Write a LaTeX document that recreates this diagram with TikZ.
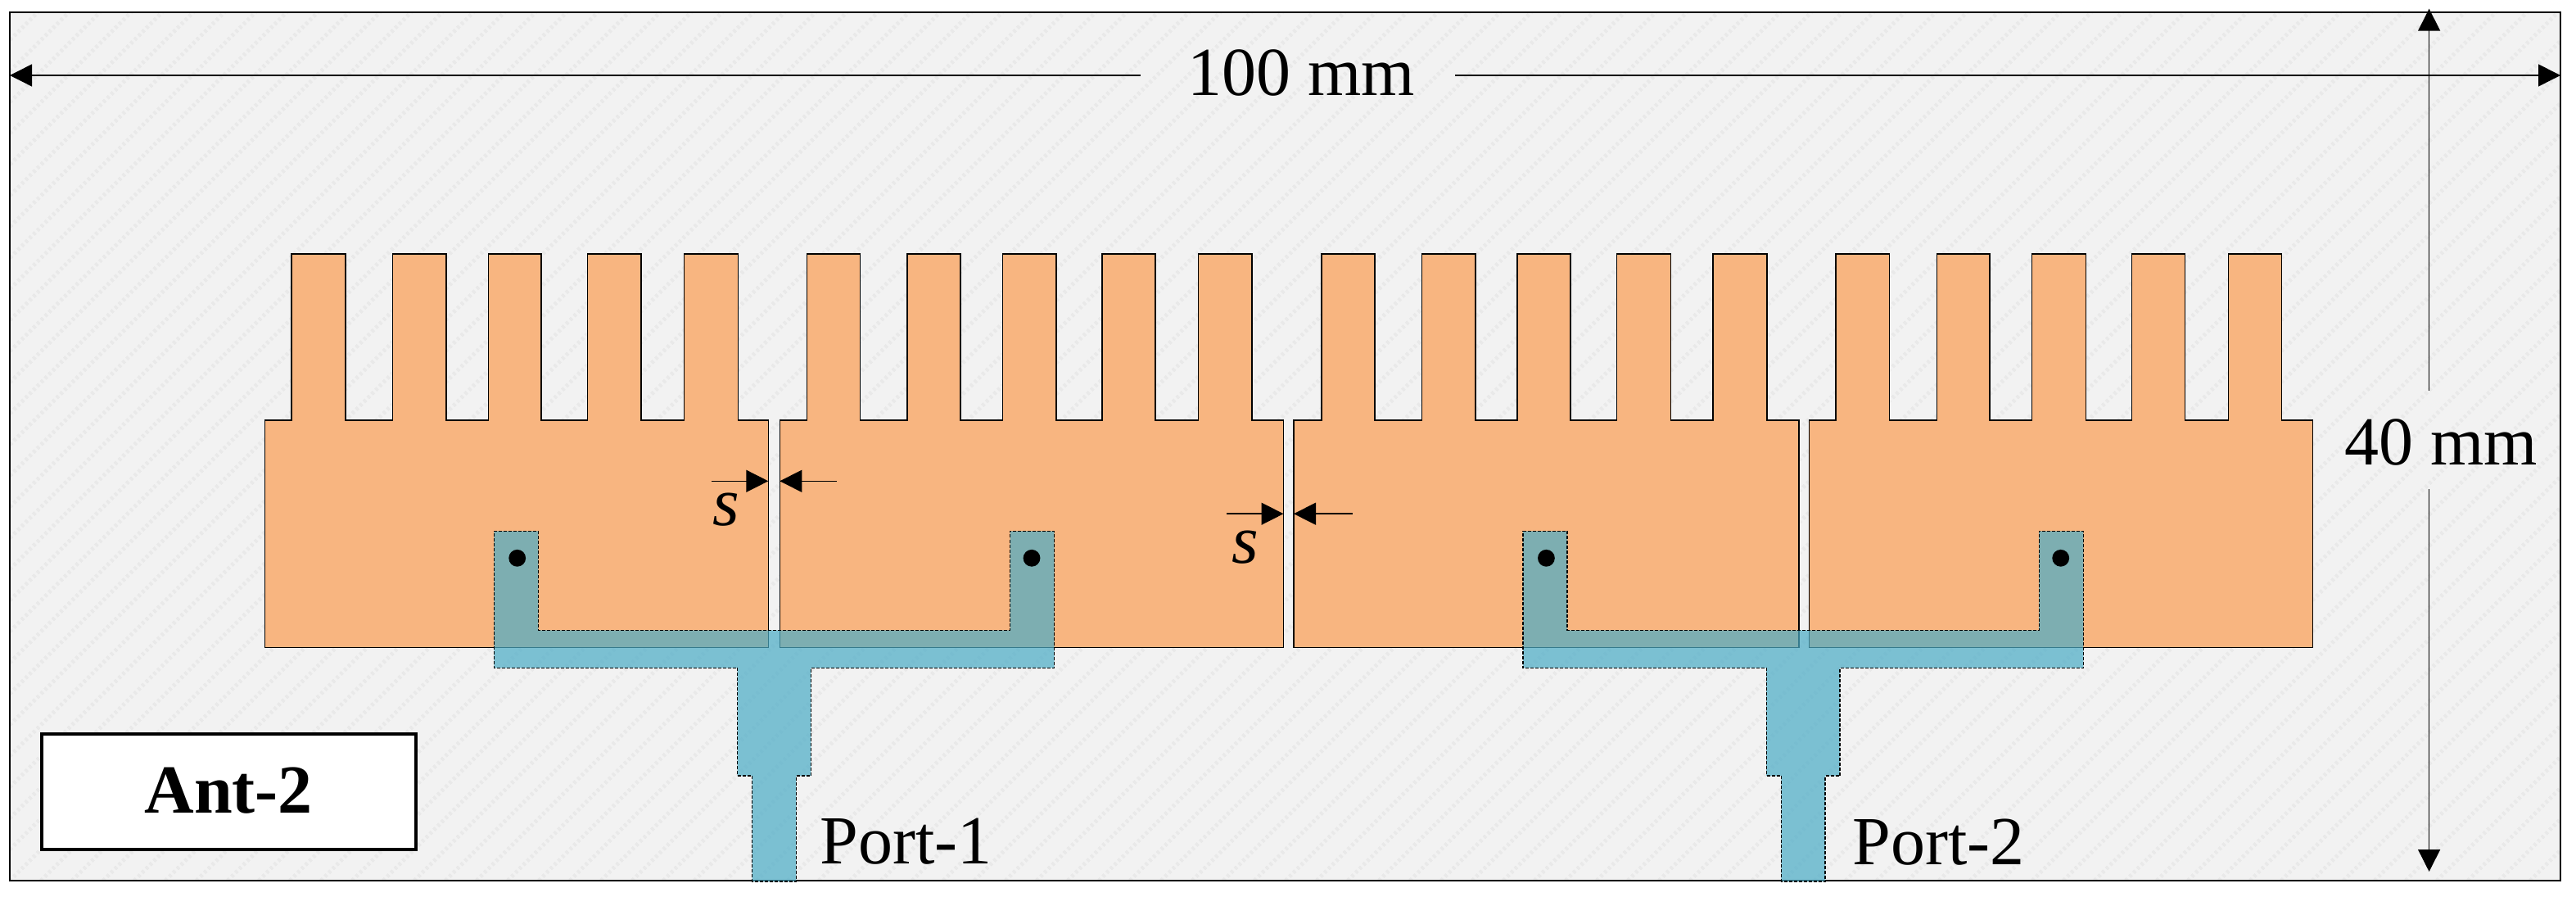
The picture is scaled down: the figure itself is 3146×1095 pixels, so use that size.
\documentclass[tikz,border=0pt]{standalone}
\usepackage{fontspec}
\setmainfont{Liberation Serif}
\usetikzlibrary{arrows.meta}
\definecolor{bgcol}{HTML}{F2F2F2}
\definecolor{hatchcol}{HTML}{E9E9E9}
\definecolor{patchcol}{HTML}{F8B580}
\definecolor{feedcol}{HTML}{4BACC6}
\newcommand{\labelfont}{\fontsize{42}{48}\selectfont}
\newcommand{\feedshape}{
  \path[feedfill] (603.3,648.3) -- (657.3,648.3) -- (657.3,769.3) -- (1233.5,769.3) -- (1233.5,648.3) -- (1287.7,648.3) -- (1287.7,815.3) -- (990.3,815.3) -- (990.3,947) -- (972.3,947) -- (972.3,1076) -- (918.7,1076) -- (918.7,947) -- (900.5,947) -- (900.5,815.3) -- (603.3,815.3) -- cycle;
  \path[feedline] (603.3,648.3) -- (657.3,648.3) -- (657.3,769.3) -- (1233.5,769.3) -- (1233.5,648.3) -- (1287.7,648.3) -- (1287.7,815.3) -- (990.3,815.3) -- (990.3,947) -- (972.3,947) -- (972.3,1076) -- (918.7,1076) -- (918.7,947) -- (900.5,947) -- (900.5,815.3) -- (603.3,815.3) -- cycle;
  \fill (631.7,681.3) circle[radius=5.2pt];
  \fill (1260,681.3) circle[radius=5.2pt];
}
\tikzset{
  x=0.5pt,y=-0.5pt,
  patchshape/.style={fill=patchcol,draw=black,line width=0.75pt,line join=miter},
  feedfill/.style={fill=feedcol,fill opacity=0.71},
  feedline/.style={draw=black,line width=0.7pt,dash pattern=on 2pt off 1pt},
  dimline/.style={draw=black,line width=0.7pt},
  dimtip/.style={dimline,-{Triangle[length=13.5pt,width=13.5pt]}},
  dimlabel/.style={inner sep=0pt,anchor=base,font=\labelfont},
  namebox/.style={draw=black,fill=white,line width=2pt,inner sep=0pt,minimum width=228.7pt,minimum height=70.2pt,text height=26pt,text depth=0pt,font=\labelfont\bfseries},
  hatchline/.style={draw=hatchcol,line width=2.37pt,dash pattern=on 1.68pt off 1.68pt},
}
\begin{document}
\begin{tikzpicture}
\useasboundingbox (0,0) rectangle (3146,1095);
% substrate
\fill[bgcol] (12,15.5) rectangle (3127,1075);
\begin{scope}
  \clip (12,15.5) rectangle (3127,1075);
  \foreach \h in {8,46,...,4400}
    \draw[hatchline] (\h-1060,1075) -- (\h,15);
\end{scope}
\draw[black,line width=1pt] (12,15.5) rectangle (3127,1075);
% radiating patches
\draw[patchshape] (323.3,790.3) -- (323.3,513)
  \foreach \a/\b in {356/422,479.6/545,596.3/661,717.5/783,835.6/901.5} { -- (\a,513) -- (\a,310) -- (\b,310) -- (\b,513) }
  -- (938.5,513) -- (938.5,790.3) -- cycle;
\draw[patchshape] (952.3,790.3) -- (952.3,513)
  \foreach \a/\b in {985.5/1050.4,1108.2/1173.2,1224.4/1290,1345.8/1411,1463.7/1529} { -- (\a,513) -- (\a,310) -- (\b,310) -- (\b,513) }
  -- (1567.5,513) -- (1567.5,790.3) -- cycle;
\draw[patchshape] (1580,790.3) -- (1580,513)
  \foreach \a/\b in {1613.8/1679,1736.6/1801.8,1853/1918,1974.4/2040.3,2092.2/2158} { -- (\a,513) -- (\a,310) -- (\b,310) -- (\b,513) }
  -- (2197,513) -- (2197,790.3) -- cycle;
\draw[patchshape] (2209.4,790.3) -- (2209.4,513)
  \foreach \a/\b in {2242/2307.5,2365.5/2430,2481.6/2547.6,2603.7/2668.4,2721.7/2786.5} { -- (\a,513) -- (\a,310) -- (\b,310) -- (\b,513) }
  -- (2824.5,513) -- (2824.5,790.3) -- cycle;
% feed lines
\feedshape
\begin{scope}[shift={(1256.7,0)}]
  \feedshape
\end{scope}
% overall width
\coordinate (wl) at (12,92);
\coordinate (wlin) at (1393,92);
\coordinate (wrin) at (1777,92);
\coordinate (wr) at (3127,92);
\draw[dimtip] (wlin) -- (wl);
\draw[dimtip] (wrin) -- (wr);
\node[dimlabel] (wlabel) at (1589,117) {100 mm};
% overall height
\coordinate (ht) at (2966.6,10.7);
\coordinate (htin) at (2966.6,477);
\coordinate (hbin) at (2966.6,597.5);
\coordinate (hb) at (2966.6,1064);
\draw[dimtip] (htin) -- (ht);
\draw[dimtip] (hbin) -- (hb);
\node[dimlabel] (hlabel) at (2981,567.5) {40 mm};
% gap s (first)
\coordinate (sa1) at (869,587.3);
\coordinate (sa2) at (938.3,587.3);
\coordinate (sa3) at (1021.7,587.3);
\coordinate (sa4) at (952.3,587.3);
\draw[dimtip] (sa1) -- (sa2);
\draw[dimtip] (sa3) -- (sa4);
\node[dimlabel] (slabela) at (887,642) {\itshape s};
% gap s (second)
\coordinate (sb1) at (1498,627.2);
\coordinate (sb2) at (1567.5,627.2);
\coordinate (sb3) at (1651.7,627.2);
\coordinate (sb4) at (1580,627.2);
\draw[dimtip] (sb1) -- (sb2);
\draw[dimtip] (sb3) -- (sb4);
\node[dimlabel] (slabelb) at (1521,688) {\itshape s};
% labels
\node[namebox] (antname) at (279.25,966.5) {Ant-2};
\node[dimlabel] (port1) at (1106.8,1054.7) {Port-1};
\node[dimlabel] (port2) at (2367.7,1055) {Port-2};
\end{tikzpicture}
\end{document}
